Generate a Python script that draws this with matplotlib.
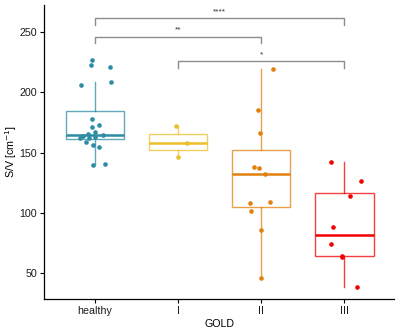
import numpy as np
import matplotlib
matplotlib.use('Agg')
import matplotlib.pyplot as plt

plt.rcParams['font.family'] = ['Liberation Sans', 'DejaVu Sans']

# --- data ---
groups = ['healthy', 'I', 'II', 'III']
colors = ['#2B8CA3', '#EBBF2A', '#E2800F', '#F20000']

healthy = [226.8, 222.6, 220.7, 208.5, 206.0, 177.6, 172.9, 171.5, 167.0, 164.6,
           165.4, 164.0, 162.4, 161.8, 163.2, 159.0, 156.3, 154.4, 139.7, 140.3]
gold_1 = [172.3, 158.0, 146.0]
gold_2 = [219.0, 185.0, 166.3, 138.0, 137.2, 132.0, 108.2, 109.0, 101.8, 85.6, 46.3]
gold_3 = [142.0, 126.2, 113.8, 88.0, 74.5, 64.3, 63.2, 38.8]

# horizontal jitter of each point (same order as the values)
jit_healthy = [-0.031, -0.043, 0.177, 0.192, -0.16, -0.031, 0.056, -0.031, 0.008, 0.096,
               -0.084, -0.136, -0.176, -0.072, 0.005, -0.104, -0.024, 0.056, -0.016, 0.117]
jit_1 = [-0.019, 0.108, 0.005]
jit_2 = [0.139, -0.036, -0.017, -0.084, -0.024, 0.048, -0.129, 0.108, -0.12, 0.0, 0.0]
jit_3 = [-0.162, 0.195, 0.07, -0.135, -0.162, -0.034, -0.026, 0.154]

values = [healthy, gold_1, gold_2, gold_3]
jitters = [jit_healthy, jit_1, jit_2, jit_3]

# significance brackets: (group a, group b, height, label)
comparisons = [(1, 4, 261.4, '****'), (1, 3, 246.1, '**'), (2, 4, 225.9, '*')]

fig = plt.figure(figsize=(4, 3.33), dpi=100)
ax = fig.add_axes([0.11, 0.102, 0.876, 0.883])

for i, (vals, jit, col) in enumerate(zip(values, jitters, colors)):
    pos = i + 1
    ax.boxplot([vals], positions=[pos], widths=0.7, whis=1.5, showfliers=False,
               patch_artist=True,
               boxprops=dict(facecolor='white', edgecolor=col, linewidth=1.0, alpha=0.75),
               whiskerprops=dict(color=col, linewidth=1.0, alpha=0.75),
               capprops=dict(linewidth=0),
               medianprops=dict(color=col, linewidth=1.8))
    ax.scatter(pos + np.array(jit), vals, s=11, color=col, zorder=3, linewidths=0)

for a, b, h, lab in comparisons:
    ax.plot([a, a, b, b], [h - 5.5, h, h, h - 5.5], color='#8C8C8C', lw=1.0,
            solid_joinstyle='miter')
    ax.text((a + b) / 2, h + 2.5, lab, ha='center', va='bottom', fontsize=6, color='#333333')

ax.set_xlim(0.39, 4.6)
ax.set_ylim(28.5, 272.5)
ax.set_xticks(range(1, 5))
ax.set_xticklabels(groups)
ax.set_yticks([50, 100, 150, 200, 250])
ax.tick_params(labelsize=7.7, length=3, width=0.8, colors='black', labelcolor='#1a1a1a', pad=2)
for s in ['top', 'right']:
    ax.spines[s].set_visible(False)
for s in ['left', 'bottom']:
    ax.spines[s].set_linewidth(0.9)

ax.set_xlabel('GOLD', fontsize=7.7, labelpad=2)
ax.set_ylabel('S/V [cm$^{-1}$]', fontsize=7.7)
ax.yaxis.set_label_coords(-0.072, 0.5)

fig.savefig('out.png', dpi=100)
